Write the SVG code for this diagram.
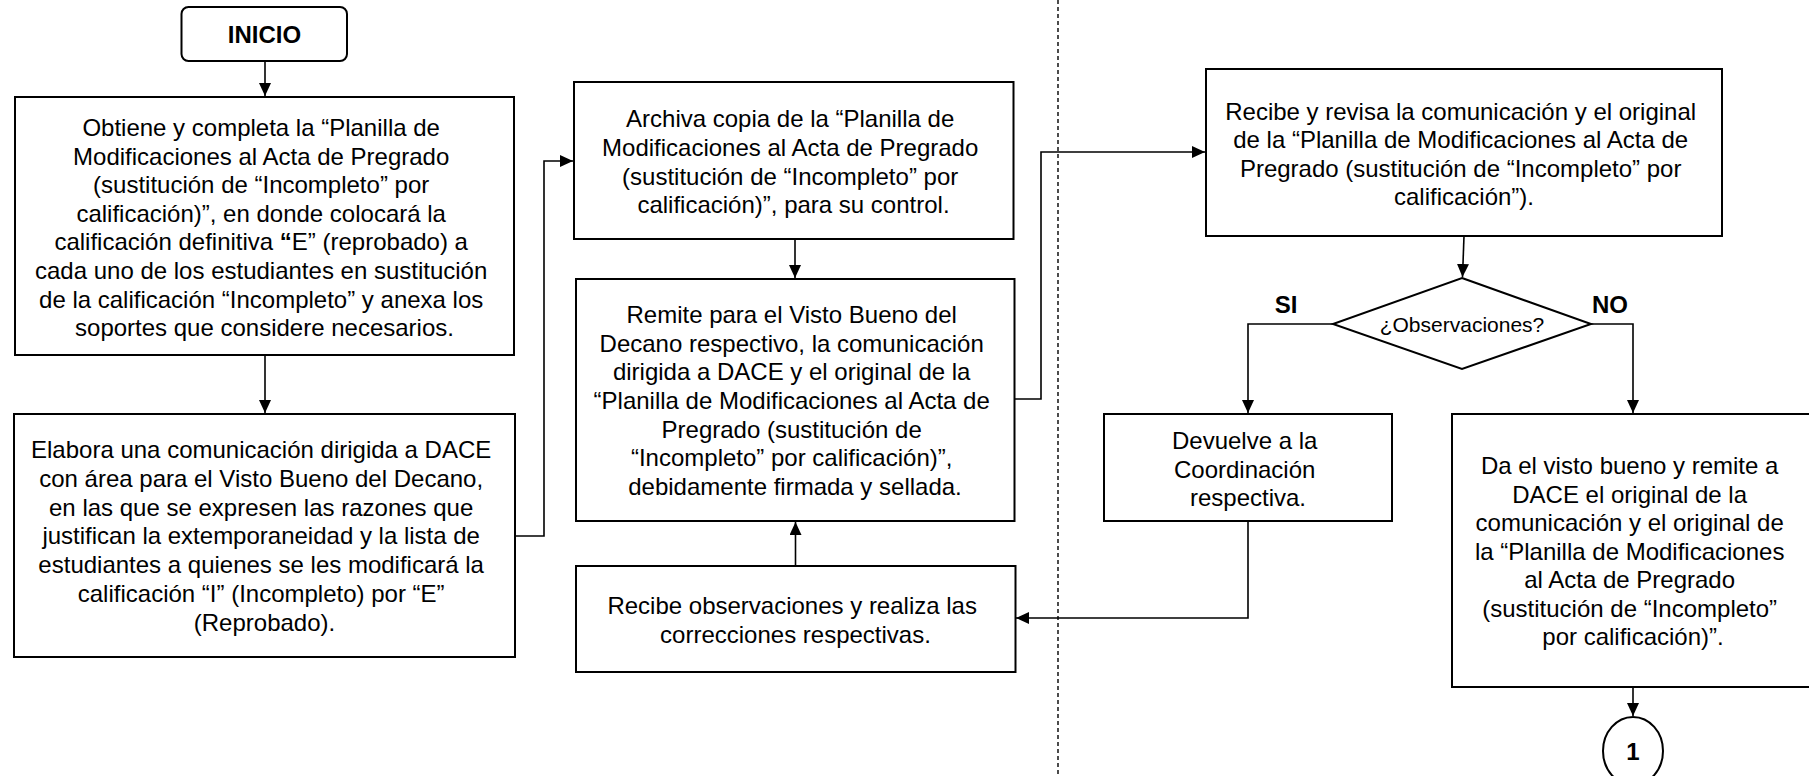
<svg xmlns="http://www.w3.org/2000/svg" width="1809" height="776" viewBox="0 0 1809 776">
<style>
.box{fill:#fff;stroke:#000;stroke-width:2}
.t{font-family:"Liberation Sans",Arial,sans-serif;font-size:24px;fill:#000;text-anchor:middle}
.b{font-weight:bold}
.s{font-size:21px}
.c{fill:none;stroke:#000;stroke-width:1.6}
.dash{fill:none;stroke:#000;stroke-width:1.4;stroke-dasharray:4 3}
</style>
<defs>
<marker id="ah" markerUnits="userSpaceOnUse" markerWidth="13" markerHeight="12" refX="13" refY="6" orient="auto">
<path d="M0,0 L13,6 L0,12 z" fill="#000"/>
</marker>
</defs>
<rect width="1809" height="776" fill="#fff"/>
<line class="dash" x1="1058" y1="0" x2="1058" y2="776"/>
<g id="connectors">
<path class="c" d="M265,61 V96" marker-end="url(#ah)"/>
<path class="c" d="M265,355 V413" marker-end="url(#ah)"/>
<path class="c" d="M515,536 H544 V161 H573" marker-end="url(#ah)"/>
<path class="c" d="M795,239 V278" marker-end="url(#ah)"/>
<path class="c" d="M795.5,566 V522" marker-end="url(#ah)"/>
<path class="c" d="M1014,399 H1041 V152 H1205" marker-end="url(#ah)"/>
<path class="c" d="M1464,236 L1462.5,277" marker-end="url(#ah)"/>
<path class="c" d="M1333,324 H1248 V413" marker-end="url(#ah)"/>
<path class="c" d="M1591,324 H1633 V413" marker-end="url(#ah)"/>
<path class="c" d="M1248,521 V618 H1016" marker-end="url(#ah)"/>
<path class="c" d="M1633,687 V716" marker-end="url(#ah)"/>
</g>
<g id="inicio">
<rect class="box" x="181.5" y="7" width="165.5" height="54" rx="7"/>
<text class="t b" x="264.5" y="42.5">INICIO</text>
</g>
<g id="obtiene">
<rect class="box" x="15" y="97" width="499" height="258"/>
<text class="t" x="264.5" y="136">
<tspan x="264.5">Obtiene y completa la “Planilla de</tspan>
<tspan x="264.5" dy="28.6">Modificaciones al Acta de Pregrado</tspan>
<tspan x="264.5" dy="28.6">(sustitución de “Incompleto” por</tspan>
<tspan x="264.5" dy="28.6">calificación)”, en donde colocará la</tspan>
<tspan x="264.5" dy="28.6">calificación definitiva <tspan class="b">“</tspan>E” (reprobado) a</tspan>
<tspan x="264.5" dy="28.6">cada uno de los estudiantes en sustitución</tspan>
<tspan x="264.5" dy="28.6">de la calificación “Incompleto” y anexa los</tspan>
<tspan x="264.5" dy="28.6">soportes que considere necesarios.</tspan>
</text>
</g>
<g id="elabora">
<rect class="box" x="14" y="414" width="501" height="243"/>
<text class="t" x="264.5" y="458">
<tspan x="264.5">Elabora una comunicación dirigida a DACE</tspan>
<tspan x="264.5" dy="28.8">con área para el Visto Bueno del Decano,</tspan>
<tspan x="264.5" dy="28.8">en las que se expresen las razones que</tspan>
<tspan x="264.5" dy="28.8">justifican la extemporaneidad y la lista de</tspan>
<tspan x="264.5" dy="28.8">estudiantes a quienes se les modificará la</tspan>
<tspan x="264.5" dy="28.8">calificación “I” (Incompleto) por “E”</tspan>
<tspan x="264.5" dy="28.8">(Reprobado).</tspan>
</text>
</g>
<g id="archiva">
<rect class="box" x="574" y="82" width="439.5" height="157"/>
<text class="t" x="793.5" y="127">
<tspan x="793.5">Archiva copia de la “Planilla de</tspan>
<tspan x="793.5" dy="28.8">Modificaciones al Acta de Pregrado</tspan>
<tspan x="793.5" dy="28.8">(sustitución de “Incompleto” por</tspan>
<tspan x="793.5" dy="28.8">calificación)”, para su control.</tspan>
</text>
</g>
<g id="remite">
<rect class="box" x="576" y="279" width="438.5" height="242"/>
<text class="t" x="795" y="323">
<tspan x="795">Remite para el Visto Bueno del</tspan>
<tspan x="795" dy="28.67">Decano respectivo, la comunicación</tspan>
<tspan x="795" dy="28.67">dirigida a DACE y el original de la</tspan>
<tspan x="795" dy="28.67">“Planilla de Modificaciones al Acta de</tspan>
<tspan x="795" dy="28.67">Pregrado (sustitución de</tspan>
<tspan x="795" dy="28.67">“Incompleto” por calificación)”,</tspan>
<tspan x="795" dy="28.67">debidamente firmada y sellada.</tspan>
</text>
</g>
<g id="recibe-obs">
<rect class="box" x="576" y="566" width="439.5" height="106"/>
<text class="t" x="795.5" y="614">
<tspan x="795.5">Recibe observaciones y realiza las</tspan>
<tspan x="795.5" dy="28.5">correcciones respectivas.</tspan>
</text>
</g>
<g id="recibe-revisa">
<rect class="box" x="1206" y="69" width="516" height="167"/>
<text class="t" x="1464" y="120">
<tspan x="1464">Recibe y revisa la comunicación y el original</tspan>
<tspan x="1464" dy="28.3">de la “Planilla de Modificaciones al Acta de</tspan>
<tspan x="1464" dy="28.3">Pregrado (sustitución de “Incompleto” por</tspan>
<tspan x="1464" dy="28.3">calificación”).</tspan>
</text>
</g>
<g id="decision">
<polygon class="box" points="1462,278 1591,324 1462,369 1333,324"/>
<text class="t s" x="1462" y="332">¿Observaciones?</text>
<text class="t b" x="1286" y="312.5">SI</text>
<text class="t b" x="1610" y="312.5">NO</text>
</g>
<g id="devuelve">
<rect class="box" x="1104" y="414" width="288" height="107"/>
<text class="t" x="1248" y="449">
<tspan x="1248">Devuelve a la</tspan>
<tspan x="1248" dy="28.5">Coordinación</tspan>
<tspan x="1248" dy="28.5">respectiva.</tspan>
</text>
</g>
<g id="visto-bueno">
<rect class="box" x="1452" y="414" width="362" height="273"/>
<text class="t" x="1633" y="474">
<tspan x="1633">Da el visto bueno y remite a</tspan>
<tspan x="1633" dy="28.5">DACE el original de la</tspan>
<tspan x="1633" dy="28.5">comunicación y el original de</tspan>
<tspan x="1633" dy="28.5">la “Planilla de Modificaciones</tspan>
<tspan x="1633" dy="28.5">al Acta de Pregrado</tspan>
<tspan x="1633" dy="28.5">(sustitución de “Incompleto”</tspan>
<tspan x="1633" dy="28.5">por calificación)”.</tspan>
</text>
</g>
<g id="conector-1">
<ellipse class="box" cx="1633" cy="751" rx="30" ry="34"/>
<text class="t b" x="1633" y="759.5">1</text>
</g>
</svg>
